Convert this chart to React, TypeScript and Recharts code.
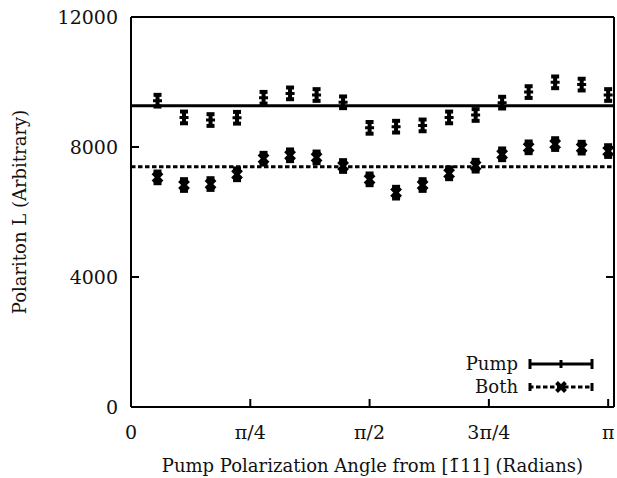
import React from 'react';
import { ComposedChart, Scatter, XAxis, YAxis, ErrorBar, ReferenceLine, Legend } from 'recharts';

const ANGLES_DEG = [10, 20, 30, 40, 50, 60, 70, 80, 90, 100, 110, 120, 130, 140, 150, 160, 170, 180];
const PUMP = [9425, 8910, 8830, 8900, 9515, 9650, 9600, 9375, 8590, 8625, 8665, 8910, 8985, 9365, 9690, 9990, 9920, 9600];
const BOTH = [7065, 6830, 6860, 7160, 7640, 7745, 7680, 7415, 7005, 6595, 6830, 7190, 7425, 7775, 7990, 8090, 7980, 7875];
const PUMP_ERR = [180, 180, 180, 180, 180, 180, 180, 180, 180, 180, 180, 180, 180, 180, 180, 180, 180, 180];
const BOTH_ERR = [180, 180, 180, 180, 180, 180, 180, 180, 180, 180, 180, 180, 180, 180, 180, 180, 180, 180];
const PUMP_FIT = 9270;
const BOTH_FIT = 7395;

const X_DOMAIN: [number, number] = [0, 182.2];
const X_TICKS = [0, 45, 90, 135, 180];
const X_TICK_LABELS = ['0', 'π/4', 'π/2', '3π/4', 'π'];
const Y_DOMAIN: [number, number] = [0, 12000];
const Y_TICKS = [0, 4000, 8000, 12000];

const X_TITLE = 'Pump Polarization Angle from [1\u030411] (Radians)';
const Y_TITLE = 'Polariton L (Arbitrary)';
const SERIES_NAMES = ['Pump', 'Both'];

const FONT = 'DejaVu Serif';
const INK = '#000';
const TEXT_INK = '#111';
const TICK_FS = 19;
const TITLE_FS = 18;

const pumpData = ANGLES_DEG.map((x, i) => ({ x, y: PUMP[i], err: PUMP_ERR[i] }));
const bothData = ANGLES_DEG.map((x, i) => ({ x, y: BOTH[i], err: BOTH_ERR[i] }));

const PlusShape = (props: any) => {
  const { cx, cy } = props;
  if (cx == null || cy == null) return null;
  return (
    <path d={`M${cx - 4.5},${cy}H${cx + 4.5}M${cx},${cy - 4.5}V${cy + 4.5}`} stroke={INK} strokeWidth={3} fill="none" />
  );
};

const CrossShape = (props: any) => {
  const { cx, cy } = props;
  if (cx == null || cy == null) return null;
  return (
    <path d={`M${cx - 4.5},${cy - 4.5}L${cx + 4.5},${cy + 4.5}M${cx - 4.5},${cy + 4.5}L${cx + 4.5},${cy - 4.5}`} stroke={INK} strokeWidth={4} fill="none" />
  );
};

const renderLegend = () => (
  <svg width={180} height={50} style={{ display: 'block' }}>
    <text x={78} y={17} textAnchor="end" fontFamily={FONT} fontSize={TITLE_FS} fill={TEXT_INK}>{SERIES_NAMES[0]}</text>
    <g stroke={INK} strokeWidth={3} fill="none">
      <path d="M89,11H153" />
      <path d="M90,6V16M152,6V16M121,7V15" />
    </g>
    <text x={78} y={40} textAnchor="end" fontFamily={FONT} fontSize={TITLE_FS} fill={TEXT_INK}>{SERIES_NAMES[1]}</text>
    <g stroke={INK} strokeWidth={3} fill="none">
      <path d="M89,34H153" strokeDasharray="4.5 2.5" />
      <path d="M90,30V38M152,30V38" />
      <path d="M116.5,29.5L125.5,38.5M116.5,38.5L125.5,29.5" strokeWidth={4} />
    </g>
  </svg>
);

export default function App() {
  return (
    <div style={{ position: 'absolute', left: 0, top: 0, width: 617, height: 478, background: '#fff', fontFamily: FONT }}>
      <ComposedChart
        width={617}
        height={478}
        margin={{ top: 16, right: 2, bottom: 31, left: 71 }}
      >
        <XAxis
          type="number"
          dataKey="x"
          xAxisId="b"
          domain={X_DOMAIN}
          ticks={X_TICKS}
          allowDataOverflow
          tickFormatter={(v: number) => X_TICK_LABELS[X_TICKS.indexOf(v)] ?? ''}
          tickSize={-8}
          tickMargin={27}
          height={40}
          axisLine={{ stroke: INK, strokeWidth: 2 }}
          tickLine={{ stroke: INK, strokeWidth: 2 }}
          tick={{ fill: TEXT_INK, fontSize: TICK_FS, fontFamily: FONT }}
          label={{ value: X_TITLE, position: 'bottom', offset: 12, fill: TEXT_INK, fontSize: TITLE_FS, fontFamily: FONT }}
        />
        <XAxis
          type="number"
          xAxisId="t"
          orientation="top"
          domain={X_DOMAIN}
          ticks={X_TICKS}
          allowDataOverflow
          tickFormatter={() => ''}
          tickSize={-8}
          height={1}
          axisLine={{ stroke: INK, strokeWidth: 2 }}
          tickLine={{ stroke: INK, strokeWidth: 2 }}
        />
        <YAxis
          type="number"
          yAxisId="l"
          domain={Y_DOMAIN}
          ticks={Y_TICKS}
          allowDataOverflow
          tickSize={-8}
          tickMargin={21}
          width={60}
          axisLine={{ stroke: INK, strokeWidth: 2 }}
          tickLine={{ stroke: INK, strokeWidth: 2 }}
          tick={{ fill: TEXT_INK, fontSize: TICK_FS, fontFamily: FONT }}
          label={{ value: Y_TITLE, angle: -90, position: 'left', offset: 51, fill: TEXT_INK, fontSize: TITLE_FS, fontFamily: FONT, style: { textAnchor: 'middle' } }}
        />
        <YAxis
          type="number"
          yAxisId="r"
          orientation="right"
          domain={Y_DOMAIN}
          ticks={Y_TICKS}
          allowDataOverflow
          tickFormatter={() => ''}
          tickSize={-8}
          width={1}
          axisLine={{ stroke: INK, strokeWidth: 2 }}
          tickLine={{ stroke: INK, strokeWidth: 2 }}
        />
        <ReferenceLine xAxisId="b" yAxisId="l" y={PUMP_FIT} stroke={INK} strokeWidth={3} />
        <ReferenceLine xAxisId="b" yAxisId="l" y={BOTH_FIT} stroke={INK} strokeWidth={3} strokeDasharray="4.5 2.5" />
        <Scatter name={SERIES_NAMES[0]} xAxisId="b" yAxisId="l" data={pumpData} dataKey="y" shape={PlusShape} isAnimationActive={false}>
          <ErrorBar dataKey="err" direction="y" width={4} stroke={INK} strokeWidth={4} isAnimationActive={false} />
        </Scatter>
        <Scatter name={SERIES_NAMES[1]} xAxisId="b" yAxisId="l" data={bothData} dataKey="y" shape={CrossShape} isAnimationActive={false}>
          <ErrorBar dataKey="err" direction="y" width={4} stroke={INK} strokeWidth={4} isAnimationActive={false} />
        </Scatter>
        <Legend
          layout="vertical"
          align="center"
          verticalAlign="middle"
          content={renderLegend}
          wrapperStyle={{ position: 'absolute', left: 440, top: 353, width: 180, height: 50 }}
        />
      </ComposedChart>
    </div>
  );
}
